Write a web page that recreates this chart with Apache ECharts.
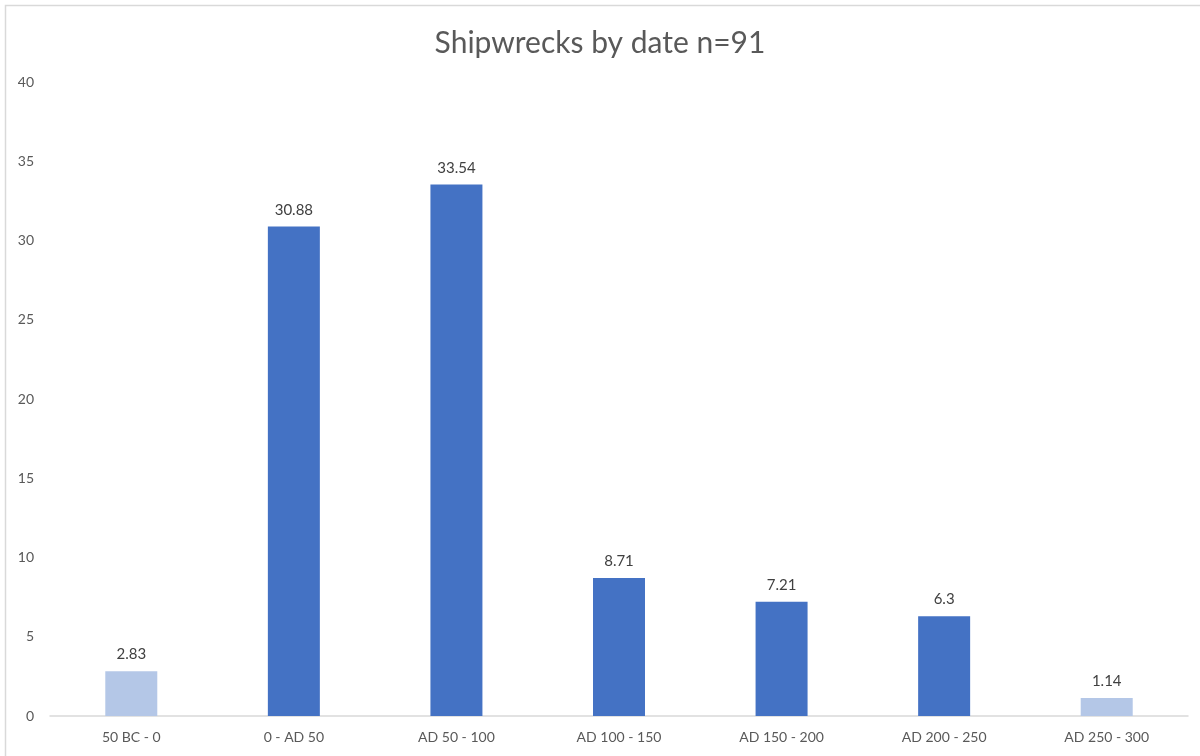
<!DOCTYPE html>
<html>
<head>
<meta charset="utf-8">
<script src="https://cdn.jsdelivr.net/npm/echarts@6/dist/echarts.min.js"></script>
<style>
  html, body { margin: 0; padding: 0; background: #fff; }
  #chart { width: 1200px; height: 756px; }
</style>
</head>
<body>
<div id="chart"></div>
<script>
// Shipwreck counts (percent share) per half-century
const categories = ['50 BC - 0', '0 - AD 50', 'AD 50 - 100', 'AD 100 - 150', 'AD 150 - 200', 'AD 200 - 250', 'AD 250 - 300'];
const values = [2.83, 30.88, 33.54, 8.71, 7.21, 6.3, 1.14];
const yTicks = { min: 0, max: 40, interval: 5 };

const DARK = '#4472c4';
const LIGHT = '#b4c7e7';
const FONT = 'Lato, "Liberation Sans", sans-serif';

// First and last periods are drawn in the lighter shade
const barData = values.map((v, i) => ({
  value: v,
  itemStyle: { color: (i === 0 || i === values.length - 1) ? LIGHT : DARK }
}));

const chart = echarts.init(document.getElementById('chart'), null, { renderer: 'canvas' });
chart.setOption({
  backgroundColor: '#fff',
  animation: false,
  title: {
    text: 'Shipwrecks by date n=91',
    left: 'center',
    top: 23,
    textStyle: { fontFamily: FONT, fontSize: 30, fontWeight: 'normal', color: '#595959' }
  },
  graphic: [{
    type: 'rect',
    shape: { x: 5.5, y: 5.5, width: 1210, height: 770 },
    style: { fill: 'none', stroke: '#d9d9d9', lineWidth: 1.5 },
    silent: true
  }],
  grid: { left: 50, right: 12, top: 82, bottom: 40, containLabel: false },
  xAxis: {
    type: 'category',
    data: categories,
    axisLine: { lineStyle: { color: '#d9d9d9', width: 1.5 } },
    axisTick: { show: false },
    axisLabel: { margin: 14, fontFamily: FONT, fontSize: 14, color: '#595959' }
  },
  yAxis: {
    type: 'value',
    min: yTicks.min,
    max: yTicks.max,
    interval: yTicks.interval,
    axisLine: { show: false },
    axisTick: { show: false },
    splitLine: { show: false },
    axisLabel: { margin: 16, fontFamily: FONT, fontSize: 14, color: '#595959' }
  },
  series: [{
    type: 'bar',
    data: barData,
    barWidth: 52,
    label: {
      show: true,
      position: 'top',
      distance: 9,
      fontFamily: FONT,
      fontSize: 15,
      color: '#404040'
    }
  }]
});
</script>
</body>
</html>
